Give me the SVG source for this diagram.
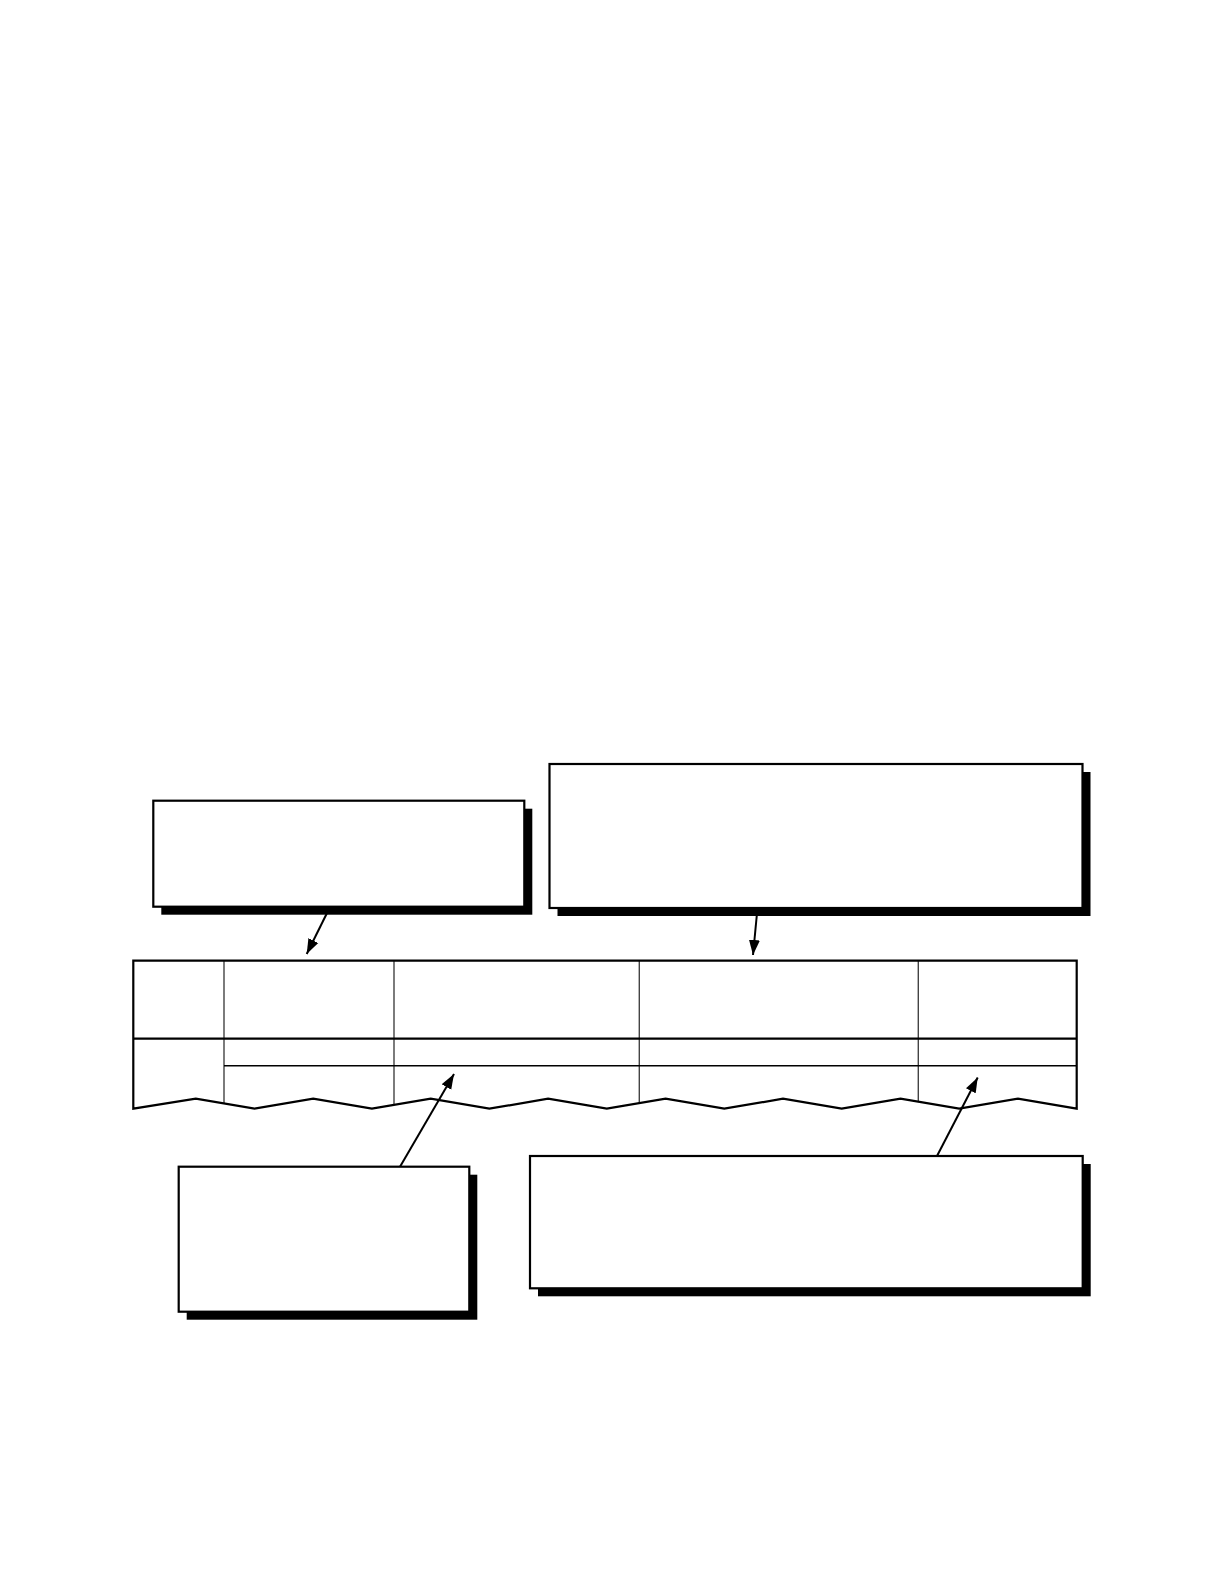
<svg xmlns="http://www.w3.org/2000/svg" width="1224" height="1584" viewBox="0 0 1224 1584">
<style>
.shadow{fill:#000;stroke:none}
.box{fill:#fff;stroke:#000;stroke-width:2.2}
.outline{fill:none;stroke:#000;stroke-width:2.2;stroke-linejoin:miter}
.col{stroke:#444;stroke-width:1.4;fill:none}
.row{stroke:#000;stroke-width:1.4;fill:none}
.rowthick{stroke:#000;stroke-width:2.2;fill:none}
.conn{stroke:#000;stroke-width:2;fill:none;marker-end:url(#arrow)}
</style>
<defs>
<marker id="arrow" markerUnits="userSpaceOnUse" markerWidth="16" markerHeight="12" viewBox="0 0 16 12" refX="15" refY="6" orient="auto">
<path d="M0,0.5 L15,6 L0,11.5 Z" fill="#000"/>
</marker>
</defs>
<rect width="1224" height="1584" fill="#fff"/>
<g id="table">
<line class="col" x1="224" y1="960.7" x2="224" y2="1103.5"/>
<line class="col" x1="394" y1="960.7" x2="394" y2="1104.9"/>
<line class="col" x1="639.3" y1="960.7" x2="639.3" y2="1103.2"/>
<line class="col" x1="918.3" y1="960.7" x2="918.3" y2="1101.7"/>
<line class="rowthick" x1="133.3" y1="1038.7" x2="1076.7" y2="1038.7"/>
<line class="row" x1="224" y1="1065.7" x2="1076.7" y2="1065.7"/>
<path class="outline" d="M133.3,1108.7 L133.3,960.7 L1076.7,960.7 L1076.7,1108.7 L1017.9,1098.7 L959.2,1108.7 L900.5,1098.7 L841.7,1108.7 L783,1098.7 L724.3,1108.7 L665.6,1098.7 L606.8,1108.7 L548.1,1098.7 L489.4,1108.7 L430.7,1098.7 L371.9,1108.7 L313.2,1098.7 L254.5,1108.7 L195.8,1098.7 Z"/>
</g>
<g id="connectors">
<line class="conn" x1="330" y1="907" x2="306.7" y2="954"/>
<line class="conn" x1="757.5" y1="908" x2="753" y2="955"/>
<line class="conn" x1="400" y1="1166.7" x2="454" y2="1074"/>
<line class="conn" x1="937" y1="1156" x2="977.7" y2="1077.5"/>
</g>
<g id="box1">
<rect class="shadow" x="161.3" y="808.7" width="371" height="106"/>
<rect class="box" x="153.3" y="800.7" width="371" height="106"/>
</g>
<g id="box2">
<rect class="shadow" x="557.5" y="772" width="533" height="144"/>
<rect class="box" x="549.5" y="764" width="533" height="144"/>
</g>
<g id="box3">
<rect class="shadow" x="186.7" y="1174.7" width="290.6" height="145"/>
<rect class="box" x="178.7" y="1166.7" width="290.6" height="145"/>
</g>
<g id="box4">
<rect class="shadow" x="538" y="1164" width="552.7" height="132.3"/>
<rect class="box" x="530" y="1156" width="552.7" height="132.3"/>
</g>
</svg>
